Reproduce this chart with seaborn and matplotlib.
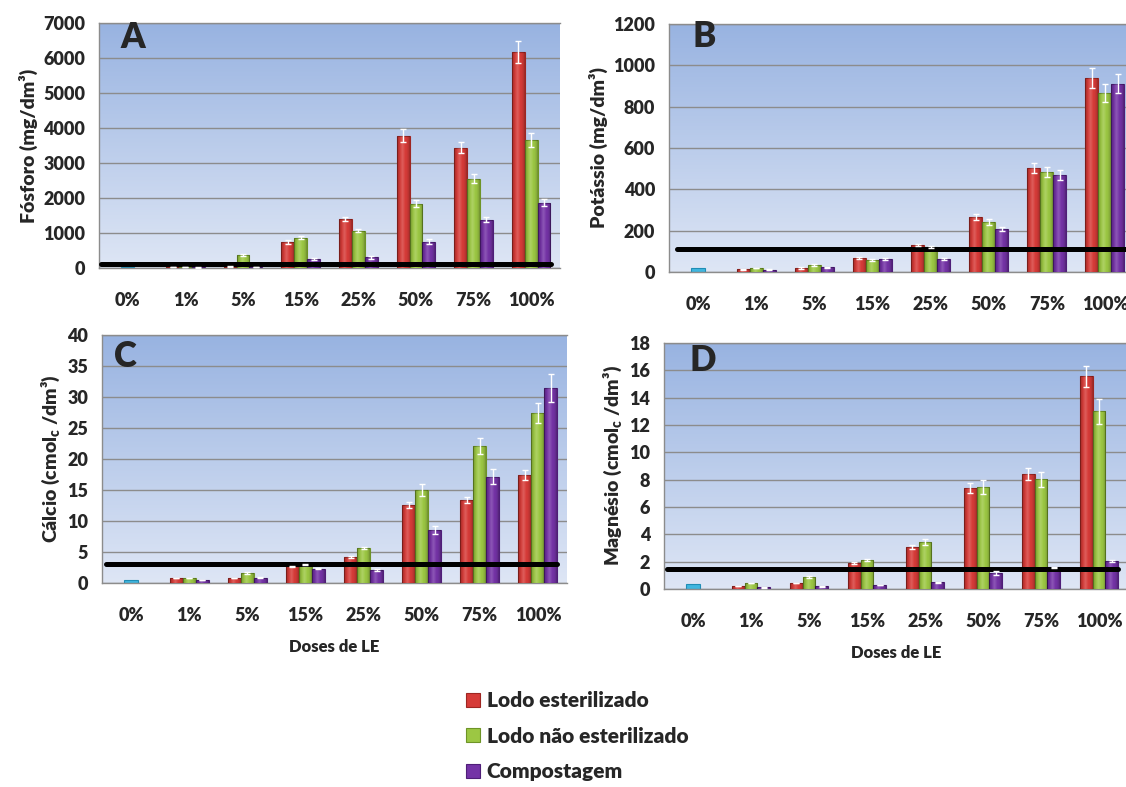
import matplotlib
matplotlib.use("Agg")
import matplotlib.pyplot as plt
from matplotlib.colors import LinearSegmentedColormap
from matplotlib.patches import Patch
import numpy as np
import pandas as pd
import seaborn as sns

# --- data ---
doses = ["0%", "1%", "5%", "15%", "25%", "50%", "75%", "100%"]
doses_le = doses[1:]
treatments = ["Lodo esterilizado", "Lodo não esterilizado", "Compostagem"]

# A - Fósforo (mg/dm3)
p_red = [25, 40, 740, 1410, 3780, 3440, 6170]
p_green = [30, 370, 865, 1065, 1835, 2545, 3655]
p_purple = [15, 30, 265, 300, 745, 1380, 1865]
p_err_red = [10, 10, 50, 60, 180, 160, 310]
p_err_green = [10, 20, 40, 50, 100, 130, 190]
p_err_purple = [5, 5, 30, 40, 70, 75, 105]
p_control = 20
p_ref = 100

# B - Potássio (mg/dm3)
k_red = [14, 19, 69, 131, 266, 503, 939]
k_green = [19, 34, 58, 120, 242, 484, 865]
k_purple = [11, 23, 64, 65, 206, 469, 910]
k_err_red = [2, 3, 5, 4, 15, 26, 48]
k_err_green = [2, 3, 5, 5, 13, 24, 43]
k_err_purple = [2, 3, 5, 5, 10, 26, 46]
k_control = 21
k_ref = 110

# C - Cálcio (cmolc/dm3)
ca_red = [0.8, 0.8, 2.7, 4.2, 12.6, 13.4, 17.4]
ca_green = [0.8, 1.6, 3.0, 5.65, 15.0, 22.1, 27.4]
ca_purple = [0.5, 0.86, 2.3, 2.1, 8.6, 17.15, 31.45]
ca_err_red = [0.05, 0.05, 0.1, 0.2, 0.45, 0.45, 0.8]
ca_err_green = [0.05, 0.1, 0.1, 0.2, 0.95, 1.35, 1.6]
ca_err_purple = [0.05, 0.05, 0.1, 0.15, 0.65, 1.2, 2.2]
ca_control = 0.43
ca_ref = 3.1

# D - Magnésio (cmolc/dm3)
mg_red = [0.22, 0.44, 1.9, 3.07, 7.37, 8.42, 15.55]
mg_green = [0.44, 0.88, 2.14, 3.45, 7.47, 8.03, 13.0]
mg_purple = [0.12, 0.2, 0.29, 0.49, 1.19, 1.58, 2.04]
mg_err_red = [0.02, 0.03, 0.08, 0.15, 0.35, 0.43, 0.8]
mg_err_green = [0.03, 0.05, 0.08, 0.2, 0.5, 0.55, 0.9]
mg_err_purple = [0.02, 0.02, 0.03, 0.05, 0.15, 0.05, 0.1]
mg_control = 0.36
mg_ref = 1.45

colors = ["#D63B38", "#9CC743", "#7433A6"]
edges = ["#9E2622", "#6E9427", "#4F1E78"]
control_color = "#3FB6DF"
grid_gray = "#8C8C8C"

sns.set_style("white")
plt.rcParams["font.family"] = ["Lato", "DejaVu Sans"]
plt.rcParams["font.weight"] = "heavy"
plt.rcParams["axes.labelweight"] = "heavy"

bg_cmap = LinearSegmentedColormap.from_list("bg", ["#DEE6F5", "#98B3E1"])

# soft bevel: dark at the sides, light in the middle of each bar
shade = np.zeros((1, 64, 4))
t = np.linspace(-1, 1, 64)
shade[0, :, 3] = 0.28 * np.abs(t) ** 3
shade_hi = np.ones((1, 64, 4))
shade_hi[0, :, 3] = 0.18 * np.clip(1 - np.abs(t + 0.15) * 2.2, 0, 1)


def long_frame(red, green, purple):
    rows = []
    for trat, vals in zip(treatments, [red, green, purple]):
        for dose, v in zip(doses_le, vals):
            rows.append({"dose": dose, "trat": trat, "value": v})
    return pd.DataFrame(rows)


def bevel(ax, p):
    x0, w, h = p.get_x(), p.get_width(), p.get_height()
    for img in (shade, shade_hi):
        im = ax.imshow(img, extent=[x0, x0 + w, 0, h], aspect="auto", zorder=3.5,
                       interpolation="bilinear")
        im.set_clip_path(p)


def draw_panel(ax, letter, letter_xy, ylabel, yticks, series, errs, control, ref, ref_span):
    df = long_frame(*series)
    ax.imshow(np.linspace(0, 1, 256).reshape(-1, 1), cmap=bg_cmap, origin="lower",
              extent=[0, 1, 0, 1], transform=ax.transAxes, aspect="auto", zorder=-2)
    sns.barplot(data=df, x="dose", y="value", hue="trat", order=doses, hue_order=treatments,
                palette=colors, width=0.67, errorbar=None, legend=False, ax=ax,
                linewidth=0.8, saturation=1)
    for cont, ec, err in zip(ax.containers, edges, errs):
        xs, hs = [], []
        for p in cont:
            p.set_edgecolor(ec)
            p.set_zorder(3)
            xs.append(p.get_x() + p.get_width() / 2)
            hs.append(p.get_height())
            bevel(ax, p)
        ax.errorbar(xs, hs, yerr=err, fmt="none", ecolor="white", elinewidth=1.0,
                    capsize=2.5, capthick=1.0, zorder=6)
    sns.barplot(x=[doses[0]], y=[control], order=doses, color=control_color, width=0.23,
                saturation=1, linewidth=0.8, edgecolor="#1F8DB5", ax=ax)

    ax.axhline(ref, xmin=ref_span[0], xmax=ref_span[1], color="black", lw=3.6, zorder=5)

    ax.set_xlim(-0.5, 7.5)
    ax.set_ylim(yticks[0], yticks[-1])
    ax.set_yticks(yticks)
    ax.grid(axis="y", color=grid_gray, lw=1.0)
    ax.set_axisbelow(True)
    for side in ["left", "bottom", "top"]:
        ax.spines[side].set_color(grid_gray)
        ax.spines[side].set_linewidth(1.0)
    ax.spines["right"].set_visible(False)
    ax.tick_params(axis="y", length=6, color=grid_gray, labelsize=13, pad=4)
    ax.tick_params(axis="x", length=0, labelsize=13, pad=17)
    ax.set_ylabel(ylabel, fontsize=14, labelpad=4)
    ax.set_xlabel("")
    ax.text(letter_xy[0], letter_xy[1], letter, transform=ax.transAxes, fontsize=25,
            fontweight="heavy", ha="center", va="center")


W, H = 1126, 787
fig = plt.figure(figsize=(W / 100, H / 100), dpi=100)


def box(left, top, right, bottom):
    return [left / W, 1 - bottom / H, (right - left) / W, (bottom - top) / H]


ax_a = fig.add_axes(box(99, 23, 560, 268))
ax_b = fig.add_axes(box(669, 24, 1134, 272))
ax_c = fig.add_axes(box(102, 335, 567, 583))
ax_d = fig.add_axes(box(664, 343, 1128, 589))

draw_panel(ax_a, "A", (0.074, 0.94), "Fósforo (mg/dm³)", np.arange(0, 7001, 1000),
           [p_red, p_green, p_purple], [p_err_red, p_err_green, p_err_purple],
           p_control, p_ref, (0.004, 0.98))
draw_panel(ax_b, "B", (0.075, 0.948), "Potássio (mg/dm³)", np.arange(0, 1201, 200),
           [k_red, k_green, k_purple], [k_err_red, k_err_green, k_err_purple],
           k_control, k_ref, (0.017, 1.0))
draw_panel(ax_c, "C", (0.05, 0.915), r"Cálcio (cmol$_\mathregular{c}$ /dm³)", np.arange(0, 41, 5),
           [ca_red, ca_green, ca_purple], [ca_err_red, ca_err_green, ca_err_purple],
           ca_control, ca_ref, (0.009, 0.978))
draw_panel(ax_d, "D", (0.084, 0.927), r"Magnésio (cmol$_\mathregular{c}$ /dm³)", np.arange(0, 19, 2),
           [mg_red, mg_green, mg_purple], [mg_err_red, mg_err_green, mg_err_purple],
           mg_control, mg_ref, (0.006, 0.978))

for ax in [ax_c, ax_d]:
    ax.set_xlabel("Doses de LE", fontsize=12, labelpad=11)

handles = [Patch(facecolor=c, edgecolor=e, linewidth=0.8) for c, e in zip(colors, edges)]
fig.legend(handles, treatments, loc="upper left", bbox_to_anchor=(466 / W, 1 - 691 / H),
           frameon=False, fontsize=15, handlelength=0.65, handleheight=0.65,
           handletextpad=0.35, labelspacing=0.8, borderaxespad=0, borderpad=0)

fig.savefig("out.png", dpi=100)
